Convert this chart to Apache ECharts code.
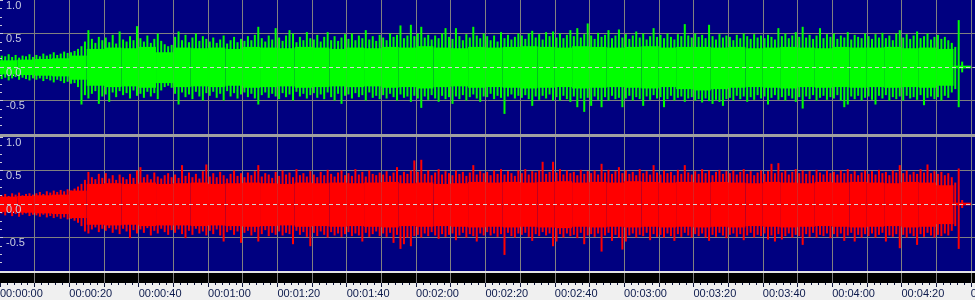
<!DOCTYPE html>
<html>
<head>
<meta charset="utf-8">
<script src="https://cdn.jsdelivr.net/npm/echarts@6/dist/echarts.min.js"></script>
<style>
html,body{margin:0;padding:0;background:#f0f0f0;}
#chart{width:975px;height:300px;}
</style>
</head>
<body>
<div id="chart"></div>
<script>
// ---- data (amplitude peaks, 1 value per second; body level, 1 value per 5 seconds) ----
const greenHi = [
0.17,0.16,0.19,0.15,0.18,0.14,0.17,0.16,0.19,0.15,
0.18,0.16,0.2,0.17,0.19,0.22,0.18,0.2,0.23,0.21,
0.22,0.24,0.27,0.31,0.38,0.55,0.42,0.36,0.45,0.4,
0.44,0.37,0.48,0.35,0.53,0.41,0.38,0.46,0.4,0.61,
0.43,0.38,0.47,0.36,0.42,0.5,0.39,0.34,0.31,0.33,
0.45,0.53,0.4,0.48,0.37,0.44,0.5,0.39,0.46,0.42,
0.38,0.44,0.36,0.41,0.47,0.35,0.4,0.45,0.37,0.42,
0.39,0.46,0.4,0.48,0.6,0.43,0.38,0.47,0.41,0.58,
0.44,0.39,0.47,0.55,0.5,0.37,0.45,0.4,0.52,0.43,
0.41,0.48,0.38,0.45,0.52,0.4,0.46,0.39,0.44,0.49,
0.42,0.5,0.4,0.47,0.43,0.55,0.41,0.46,0.39,0.48,
0.44,0.4,0.5,0.45,0.48,0.62,0.43,0.47,0.63,0.46,
0.5,0.6,0.44,0.48,0.41,0.47,0.43,0.5,0.58,0.45,
0.42,0.58,0.46,0.4,0.49,0.44,0.6,0.47,0.43,0.5,
0.46,0.4,0.47,0.38,0.52,0.43,0.48,0.41,0.45,0.5,
0.47,0.42,0.5,0.54,0.44,0.49,0.41,0.52,0.46,0.53,
0.44,0.5,0.43,0.48,0.55,0.46,0.58,0.44,0.49,0.65,
0.47,0.42,0.51,0.45,0.48,0.55,0.43,0.47,0.56,0.44,
0.49,0.42,0.47,0.53,0.44,0.5,0.41,0.46,0.58,0.45,
0.48,0.43,0.5,0.45,0.41,0.49,0.46,0.64,0.47,0.44,
0.5,0.45,0.48,0.43,0.63,0.46,0.41,0.49,0.44,0.47,
0.45,0.4,0.48,0.43,0.5,0.46,0.42,0.49,0.44,0.47,
0.43,0.48,0.45,0.41,0.58,0.46,0.5,0.43,0.47,0.52,
0.45,0.6,0.44,0.48,0.42,0.47,0.58,0.43,0.49,0.45,
0.5,0.42,0.47,0.44,0.52,0.41,0.48,0.45,0.43,0.5,
0.46,0.42,0.49,0.44,0.51,0.43,0.47,0.4,0.5,0.55,
0.44,0.49,0.42,0.47,0.53,0.43,0.46,0.5,0.41,0.45,
0.48,0.42,0.45,0.4,0.36,0.3,0.7,0.08];
const greenLo = [
-0.18,-0.16,-0.2,-0.17,-0.15,-0.19,-0.16,-0.18,-0.2,-0.17,
-0.19,-0.17,-0.21,-0.18,-0.2,-0.23,-0.19,-0.21,-0.24,-0.22,
-0.25,-0.24,-0.3,-0.56,-0.42,-0.47,-0.4,-0.36,-0.55,-0.44,
-0.41,-0.52,-0.38,-0.45,-0.36,-0.42,-0.39,-0.47,-0.35,-0.43,
-0.4,-0.46,-0.37,-0.44,-0.39,-0.48,-0.35,-0.3,-0.28,-0.31,
-0.4,-0.56,-0.38,-0.45,-0.41,-0.48,-0.37,-0.44,-0.5,-0.39,
-0.43,-0.37,-0.46,-0.4,-0.5,-0.36,-0.44,-0.39,-0.47,-0.41,
-0.38,-0.45,-0.4,-0.47,-0.56,-0.42,-0.38,-0.46,-0.4,-0.44,
-0.48,-0.39,-0.45,-0.41,-0.5,-0.37,-0.44,-0.4,-0.47,-0.42,
-0.39,-0.46,-0.41,-0.48,-0.38,-0.45,-0.5,-0.4,-0.55,-0.43,
-0.41,-0.47,-0.39,-0.45,-0.42,-0.5,-0.38,-0.46,-0.43,-0.48,
-0.42,-0.47,-0.4,-0.45,-0.5,-0.41,-0.46,-0.44,-0.52,-0.43,
-0.47,-0.61,-0.44,-0.49,-0.42,-0.47,-0.52,-0.43,-0.48,-0.45,
-0.55,-0.44,-0.48,-0.42,-0.5,-0.45,-0.41,-0.47,-0.52,-0.44,
-0.45,-0.4,-0.48,-0.43,-0.46,-0.7,-0.44,-0.41,-0.47,-0.43,
-0.46,-0.42,-0.48,-0.58,-0.44,-0.49,-0.43,-0.47,-0.41,-0.5,
-0.45,-0.5,-0.43,-0.48,-0.52,-0.44,-0.6,-0.47,-0.67,-0.46,
-0.58,-0.44,-0.49,-0.6,-0.45,-0.5,-0.43,-0.48,-0.46,-0.6,
-0.47,-0.43,-0.5,-0.45,-0.48,-0.58,-0.44,-0.49,-0.42,-0.47,
-0.45,-0.6,-0.48,-0.43,-0.5,-0.46,-0.44,-0.52,-0.47,-0.45,
-0.5,-0.48,-0.53,-0.47,-0.51,-0.55,-0.49,-0.52,-0.58,-0.48,
-0.46,-0.5,-0.43,-0.48,-0.44,-0.52,-0.45,-0.49,-0.42,-0.47,
-0.44,-0.56,-0.46,-0.42,-0.49,-0.45,-0.5,-0.43,-0.47,-0.52,
-0.45,-0.62,-0.44,-0.48,-0.42,-0.5,-0.46,-0.43,-0.49,-0.45,
-0.47,-0.42,-0.5,-0.6,-0.56,-0.44,-0.48,-0.43,-0.5,-0.46,
-0.44,-0.49,-0.56,-0.43,-0.47,-0.42,-0.5,-0.45,-0.48,-0.44,
-0.5,-0.43,-0.47,-0.45,-0.49,-0.42,-0.57,-0.46,-0.44,-0.48,
-0.45,-0.5,-0.43,-0.46,-0.38,-0.33,-0.6,-0.08];
const greenBodyHi = [
0.1,0.11,0.12,0.13,0.17,0.27,0.29,0.28,0.3,0.22,
0.29,0.28,0.29,0.27,0.3,0.29,0.28,0.3,0.29,0.27,
0.29,0.28,0.3,0.29,0.31,0.29,0.28,0.3,0.29,0.3,
0.31,0.3,0.29,0.31,0.3,0.29,0.3,0.31,0.29,0.3,
0.3,0.29,0.3,0.28,0.29,0.3,0.29,0.28,0.3,0.29,
0.29,0.3,0.28,0.29,0.27,0.02];
const greenBodyLo = [
-0.11,-0.12,-0.13,-0.14,-0.19,-0.28,-0.3,-0.29,-0.31,-0.24,
-0.3,-0.29,-0.3,-0.28,-0.31,-0.3,-0.29,-0.31,-0.3,-0.29,
-0.3,-0.29,-0.31,-0.3,-0.32,-0.3,-0.29,-0.31,-0.3,-0.31,
-0.32,-0.31,-0.3,-0.32,-0.31,-0.3,-0.31,-0.32,-0.3,-0.33,
-0.35,-0.33,-0.31,-0.3,-0.31,-0.32,-0.3,-0.31,-0.3,-0.31,
-0.3,-0.31,-0.3,-0.31,-0.28,-0.02];
const redHi = [
0.13,0.15,0.12,0.16,0.14,0.17,0.13,0.15,0.16,0.14,
0.16,0.18,0.15,0.19,0.17,0.2,0.18,0.21,0.19,0.22,
0.2,0.23,0.26,0.3,0.36,0.48,0.4,0.37,0.45,0.39,
0.46,0.38,0.43,0.36,0.44,0.4,0.37,0.45,0.39,0.5,
0.55,0.4,0.44,0.37,0.47,0.41,0.38,0.43,0.46,0.4,
0.44,0.39,0.58,0.42,0.47,0.4,0.45,0.38,0.49,0.59,
0.41,0.46,0.4,0.48,0.43,0.38,0.45,0.5,0.42,0.46,
0.4,0.47,0.43,0.49,0.58,0.41,0.46,0.44,0.39,0.48,
0.42,0.5,0.44,0.47,0.4,0.52,0.43,0.46,0.41,0.49,
0.44,0.4,0.48,0.43,0.51,0.45,0.41,0.47,0.5,0.43,
0.46,0.42,0.52,0.44,0.48,0.41,0.5,0.45,0.43,0.47,
0.44,0.49,0.42,0.47,0.55,0.43,0.48,0.45,0.5,0.65,
0.48,0.66,0.45,0.5,0.43,0.47,0.52,0.44,0.49,0.46,
0.43,0.5,0.45,0.48,0.42,0.47,0.58,0.44,0.49,0.46,
0.48,0.43,0.5,0.45,0.52,0.44,0.49,0.46,0.42,0.5,
0.46,0.52,0.44,0.49,0.47,0.5,0.63,0.45,0.48,0.63,
0.47,0.52,0.44,0.5,0.46,0.48,0.43,0.51,0.45,0.49,
0.46,0.5,0.44,0.6,0.47,0.51,0.45,0.49,0.55,0.46,
0.5,0.45,0.48,0.43,0.52,0.46,0.49,0.44,0.58,0.47,
0.44,0.5,0.46,0.48,0.43,0.51,0.45,0.58,0.47,0.44,
0.49,0.45,0.52,0.46,0.5,0.43,0.48,0.51,0.45,0.49,
0.46,0.5,0.44,0.48,0.52,0.45,0.49,0.43,0.47,0.5,
0.45,0.49,0.6,0.46,0.61,0.47,0.5,0.44,0.48,0.52,
0.46,0.5,0.45,0.49,0.43,0.51,0.47,0.44,0.5,0.46,
0.48,0.44,0.5,0.46,0.52,0.45,0.49,0.43,0.47,0.5,
0.45,0.49,0.44,0.51,0.46,0.48,0.43,0.5,0.47,0.58,
0.46,0.5,0.44,0.48,0.45,0.52,0.47,0.59,0.46,0.49,
0.45,0.48,0.43,0.46,0.4,0.32,0.53,0.06];
const redLo = [
-0.14,-0.17,-0.13,-0.18,-0.15,-0.19,-0.16,-0.14,-0.18,-0.16,
-0.17,-0.19,-0.16,-0.2,-0.18,-0.21,-0.19,-0.22,-0.2,-0.23,
-0.22,-0.25,-0.28,-0.33,-0.41,-0.44,-0.38,-0.35,-0.42,-0.37,
-0.4,-0.36,-0.43,-0.38,-0.45,-0.37,-0.41,-0.51,-0.39,-0.44,
-0.38,-0.43,-0.36,-0.47,-0.4,-0.44,-0.37,-0.42,-0.46,-0.39,
-0.43,-0.38,-0.45,-0.51,-0.4,-0.46,-0.37,-0.44,-0.41,-0.47,
-0.4,-0.45,-0.38,-0.47,-0.56,-0.42,-0.39,-0.46,-0.41,-0.58,
-0.43,-0.4,-0.47,-0.42,-0.56,-0.45,-0.39,-0.48,-0.43,-0.46,
-0.41,-0.47,-0.43,-0.45,-0.6,-0.4,-0.46,-0.42,-0.49,-0.63,
-0.43,-0.48,-0.41,-0.46,-0.5,-0.42,-0.47,-0.44,-0.49,-0.45,
-0.42,-0.48,-0.44,-0.47,-0.56,-0.43,-0.49,-0.45,-0.41,-0.48,
-0.44,-0.49,-0.43,-0.58,-0.46,-0.67,-0.6,-0.5,-0.63,-0.48,
-0.46,-0.5,-0.44,-0.48,-0.42,-0.47,-0.52,-0.45,-0.49,-0.46,
-0.44,-0.54,-0.47,-0.43,-0.5,-0.45,-0.48,-0.56,-0.44,-0.47,
-0.42,-0.47,-0.44,-0.49,-0.45,-0.76,-0.43,-0.48,-0.5,-0.44,
-0.46,-0.43,-0.49,-0.55,-0.45,-0.48,-0.42,-0.47,-0.44,-0.63,
-0.56,-0.45,-0.5,-0.44,-0.48,-0.46,-0.51,-0.43,-0.6,-0.47,
-0.45,-0.49,-0.44,-0.71,-0.47,-0.43,-0.55,-0.46,-0.5,-0.68,
-0.56,-0.47,-0.44,-0.5,-0.46,-0.48,-0.43,-0.54,-0.45,-0.49,
-0.46,-0.5,-0.44,-0.48,-0.55,-0.45,-0.49,-0.43,-0.47,-0.5,
-0.45,-0.48,-0.44,-0.5,-0.55,-0.46,-0.49,-0.43,-0.47,-0.51,
-0.46,-0.44,-0.49,-0.45,-0.54,-0.47,-0.43,-0.5,-0.46,-0.48,
-0.44,-0.53,-0.47,-0.56,-0.45,-0.53,-0.48,-0.44,-0.5,-0.46,
-0.48,-0.61,-0.45,-0.49,-0.43,-0.5,-0.46,-0.48,-0.44,-0.51,
-0.45,-0.49,-0.44,-0.55,-0.47,-0.43,-0.56,-0.46,-0.5,-0.45,
-0.48,-0.44,-0.5,-0.46,-0.43,-0.56,-0.47,-0.49,-0.45,-0.66,
-0.46,-0.5,-0.44,-0.48,-0.61,-0.45,-0.49,-0.43,-0.47,-0.5,
-0.46,-0.48,-0.44,-0.47,-0.4,-0.33,-0.67,-0.06];
const redBodyHi = [
0.11,0.12,0.13,0.14,0.2,0.3,0.31,0.3,0.32,0.3,
0.31,0.32,0.3,0.31,0.32,0.31,0.3,0.32,0.31,0.32,
0.31,0.32,0.33,0.31,0.32,0.3,0.31,0.33,0.32,0.33,
0.32,0.33,0.34,0.32,0.33,0.32,0.34,0.33,0.32,0.33,
0.32,0.33,0.32,0.31,0.33,0.32,0.31,0.33,0.32,0.33,
0.32,0.31,0.33,0.32,0.28,0.02];
const redBodyLo = [
-0.12,-0.13,-0.14,-0.15,-0.21,-0.31,-0.32,-0.31,-0.33,-0.32,
-0.32,-0.33,-0.32,-0.33,-0.34,-0.33,-0.32,-0.34,-0.33,-0.34,
-0.33,-0.34,-0.35,-0.33,-0.34,-0.33,-0.34,-0.35,-0.34,-0.35,
-0.34,-0.35,-0.36,-0.34,-0.35,-0.34,-0.35,-0.34,-0.35,-0.34,
-0.35,-0.34,-0.35,-0.33,-0.34,-0.35,-0.34,-0.33,-0.34,-0.35,
-0.34,-0.33,-0.35,-0.34,-0.3,-0.02];
const timeLabels = ['00:00:00','00:00:20','00:00:40','00:01:00','00:01:20','00:01:40','00:02:00',
  '00:02:20','00:02:40','00:03:00','00:03:20','00:03:40','00:04:00','00:04:20','00:04:40'];
const ampLabels = ['-0.5','0.0','0.5','1.0'];

// ---- layout / style constants ----
const AXIS_MAX = 281.2;     // seconds shown across the 975px view
const PEAK_SPAN = 1;        // seconds per peak value
const BODY_SPAN = 5;        // seconds per body value
const BLUE = '#000080', GRIDC = '#808080';

function peakItem(color){
  return function(params, api){
    const i = api.value(0);
    const t = (i + 0.5) * PEAK_SPAN;
    const a = api.coord([t, api.value(1)]);
    const b = api.coord([t, api.value(2)]);
    return {type:'rect', shape:{x:a[0]-1, y:a[1], width:2, height:b[1]-a[1]}, style:{fill:color}};
  };
}
function bodyItem(color){
  return function(params, api){
    const k = api.value(0);
    const a = api.coord([k*BODY_SPAN, api.value(1)]);
    const b = api.coord([(k+1)*BODY_SPAN, api.value(2)]);
    return {type:'rect', shape:{x:a[0], y:a[1], width:b[0]-a[0], height:b[1]-a[1]}, style:{fill:color}};
  };
}
const zeroLine = {silent:true, symbol:'none', label:{show:false}, animation:false,
  lineStyle:{color:'#d4d4d4', type:[4,3], width:1}, data:[{yAxis:0}]};

function timeFmt(v){
  const k = v/20;
  if (Math.abs(k - Math.round(k)) > 1e-6) return '';
  return timeLabels[Math.round(k)] || '';
}
function ampFmt(v){
  const idx = Math.round((v + 0.5)/0.5);
  return (idx >= 0 && idx < ampLabels.length) ? ampLabels[idx] : '';
}

const xAxes = [0,1,2].map(g => ({
  type:'value', gridIndex:g, position:'bottom', min:0, max:AXIS_MAX, interval:10,
  axisLine:{show:false},
  axisTick:{show:g===2, length:4, lineStyle:{color:'#101840'}},
  minorTick:{show:g===2, splitNumber:5, length:2, lineStyle:{color:'#101840'}},
  axisLabel:{show:g===2, margin:5, align:'left', color:'#0c1a4c', fontSize:11,
    fontFamily:'Liberation Sans', formatter:timeFmt, showMinLabel:true, showMaxLabel:true},
  splitLine:{show:true, showMinLine:false, showMaxLine:false, lineStyle:{color:GRIDC, width:1}}
}));
const yAxes = [];
[0,1].forEach(g => {
  yAxes.push({type:'value', gridIndex:g, position:'left', min:-1, max:1, interval:0.5, z:0,
    axisLine:{show:false}, axisTick:{show:false}, axisLabel:{show:false},
    splitLine:{show:true, showMinLine:false, showMaxLine:false, lineStyle:{color:GRIDC, width:1}}});
  yAxes.push({type:'value', gridIndex:g, position:'left', offset:0, min:-1, max:1, interval:0.5, z:10,
    axisLine:{show:false, onZero:false},
    axisTick:{show:true, inside:true, length:3, lineStyle:{color:'#c8c8d8'}},
    minorTick:{show:true, splitNumber:4, length:2, lineStyle:{color:'#c8c8d8'}},
    axisLabel:{inside:true, margin:6, verticalAlign:'top', color:'#c8cce0', fontSize:11,
      fontFamily:'Liberation Sans', formatter:ampFmt, showMinLabel:false, showMaxLabel:true},
    splitLine:{show:false}});
});
// hidden y axis for the time-ruler grid
yAxes.push({type:'value', gridIndex:2, min:0, max:1, show:false});

const chart = echarts.init(document.getElementById('chart'), null, {renderer:'canvas'});
chart.setOption({
  animation:false,
  backgroundColor:'#f0f0f0',
  grid:[
    {left:0, right:0, top:0, height:134, show:true, backgroundColor:BLUE, borderWidth:0,
      containLabel:false, outerBoundsMode:'none'},
    {left:0, right:0, top:137, height:134, show:true, backgroundColor:BLUE, borderWidth:0,
      containLabel:false, outerBoundsMode:'none'},
    {left:0, right:0, top:273, height:10, show:true, backgroundColor:'#000000', borderWidth:0,
      containLabel:false, outerBoundsMode:'none'}
  ],
  xAxis:xAxes,
  yAxis:yAxes,
  series:[
    {type:'custom', xAxisIndex:0, yAxisIndex:0, clip:true, renderItem:bodyItem('#00ff00'),
      encode:{x:0, y:[1,2]}, data:greenBodyHi.map((h,k)=>[k,h,greenBodyLo[k]])},
    {type:'custom', xAxisIndex:0, yAxisIndex:0, clip:true, renderItem:peakItem('#00ff00'),
      encode:{x:0, y:[1,2]}, data:greenHi.map((h,i)=>[i,h,greenLo[i]]), markLine:zeroLine},
    {type:'custom', xAxisIndex:1, yAxisIndex:2, clip:true, renderItem:bodyItem('#ff0000'),
      encode:{x:0, y:[1,2]}, data:redBodyHi.map((h,k)=>[k,h,redBodyLo[k]])},
    {type:'custom', xAxisIndex:1, yAxisIndex:2, clip:true, renderItem:peakItem('#ff0000'),
      encode:{x:0, y:[1,2]}, data:redHi.map((h,i)=>[i,h,redLo[i]]), markLine:zeroLine}
  ],
  graphic:[
    {type:'rect', left:0, top:134, z:100, shape:{width:975, height:3}, style:{fill:'#a0a0a0'}},
    {type:'rect', left:0, top:271, z:100, shape:{width:975, height:2}, style:{fill:'#e4e4e4'}}
  ]
});
</script>
</body>
</html>
